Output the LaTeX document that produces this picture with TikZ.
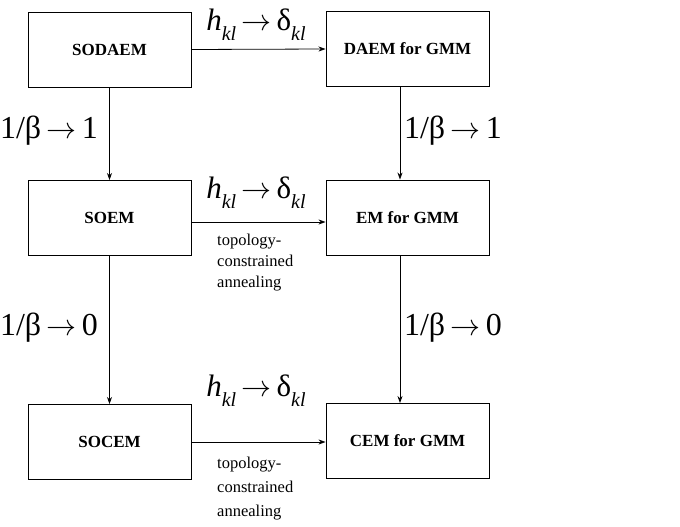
\documentclass[tikz,border=0pt]{standalone}
\usepackage{fontspec}
\setmainfont{Liberation Serif}
\usetikzlibrary{arrows.meta}
\newcommand\sbkl{\raisebox{-0.32em}{\fontsize{20}{20}\selectfont\itshape kl}}
\newcommand\rarr{\resizebox{30pt}{!}{$\rightarrow$}}
\newcommand\hkl{\textit{h}\sbkl\,\rarr\,δ\sbkl}
\begin{document}
\begin{tikzpicture}[x=1pt,y=-1pt,
  box/.style={draw,line width=0.9pt,minimum width=163pt,minimum height=75pt,inner sep=0pt,
    font=\fontsize{17}{20}\selectfont\bfseries},
  arr/.style={-{Stealth[length=7pt,width=5pt]},line width=0.8pt},
  hlab/.style={font=\fontsize{31}{34}\selectfont,inner sep=0pt},
  blab/.style={font=\fontsize{32}{36}\selectfont,inner sep=0pt},
  note/.style={font=\fontsize{16.5}{21}\selectfont,align=left,inner sep=0pt,anchor=north west}]
\useasboundingbox (0,0) rectangle (680,527);
\node[box] (sodaem) at (109.5,49.5) {SODAEM};
\node[box] (daem) at (407.5,49) {DAEM for GMM};
\node[box] (soem) at (109.5,218) {SOEM};
\node[box] (em) at (407.5,217.5) {EM for GMM};
\node[box] (socem) at (109.5,442) {SOCEM};
\node[box] (cem) at (407.5,441) {CEM for GMM};
% horizontal arrows
\draw[arr] (sodaem.east) -- (daem.west);
\draw[arr] ([yshift=-4pt]soem.east) -- ([yshift=-4pt]soem.east -| em.west);
\draw[arr] (socem.east) -- (socem.east -| cem.west);
% vertical arrows
\draw[arr] (sodaem.south) -- (soem.north);
\draw[arr] (soem.south) -- (socem.north);
\draw[arr] ([xshift=-7.5pt]daem.south) -- ([xshift=-7.5pt]daem.south |- em.north);
\draw[arr] ([xshift=-7.5pt]em.south) -- ([xshift=-7.5pt]em.south |- cem.north);
% labels
\node[hlab] (h1) at (256,25) {\hkl};
\node[hlab] (h2) at (256,193) {\hkl};
\node[hlab] (h3) at (256,391) {\hkl};
\node[blab] (b1) at (49,131) {1/β\,\rarr\,1};
\node[blab] (b2) at (453,131) {1/β\,\rarr\,1};
\node[blab] (b3) at (49,328) {1/β\,\rarr\,0};
\node[blab] (b4) at (453,328) {1/β\,\rarr\,0};
\node[note] (t1) at (217,234) {topology-\\constrained\\annealing};
\node[note,font=\fontsize{16.5}{24}\selectfont] (t2) at (217,457) {topology-\\constrained\\annealing};
\end{tikzpicture}
\end{document}
